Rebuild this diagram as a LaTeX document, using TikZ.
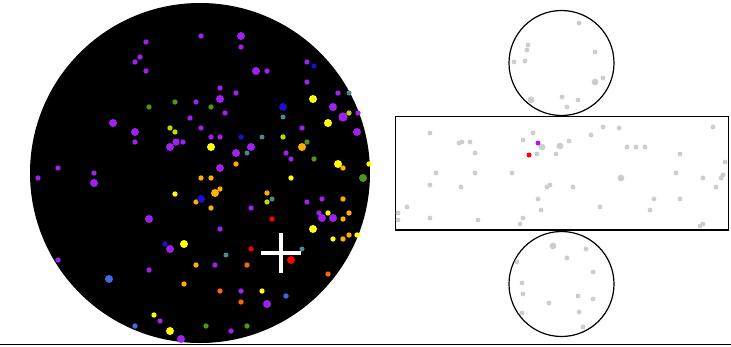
\documentclass[tikz,border=0pt]{standalone}
\definecolor{cpurple}{RGB}{160,32,240}
\definecolor{cyellow}{RGB}{255,255,0}
\definecolor{corange}{RGB}{255,175,0}
\definecolor{cored}{RGB}{255,100,0}
\definecolor{cblue}{RGB}{25,15,205}
\definecolor{cteal}{RGB}{70,140,140}
\definecolor{cygreen}{RGB}{195,215,0}
\definecolor{cgreen}{RGB}{80,150,20}
\definecolor{cred}{RGB}{255,0,0}
\definecolor{csteel}{RGB}{65,105,225}
\definecolor{cgrey}{RGB}{205,205,205}
\begin{document}
\begin{tikzpicture}[x=1pt,y=-1pt,
  outline/.style={draw=black,line width=1.2pt,fill=white}]
\useasboundingbox (0,0) rectangle (731,346);
% ground line
\draw[line width=1.2pt] (0,344.5) -- (731,344.5);
% sky disc
\fill[black] (200,173) circle (170);
% purple dots
\foreach \x/\y/\r in {201/36/2.7,241/36/4,241/47/2.7,146/42/2.7,140/57/2.7,135/62/2.7,146/71/2.7,256/71/4,267/71/2.7,307/62/2.7,307/82/2.7,220/88/2.7,236/93/2.7,338/93/2.7,220/99/4,196/102/2.7,333/107/4,343/117/4.7,358/113/2.7,225/113/2.7,190/118/2.7,113/123/4,201/128/2.7,135/132/4,135/142/2.7,302/128/2.7,357/132/4,211/137/2.7,220/137/2.7,170/147/4,176/142/3.7,183/142/2.7,251/147/4,236/153/4,286/153/2.7,291/159/2.7,58/168/2.7,38/178/2.7,94/173/2.7,94/183/4,220/168/4,251/208/2.7,307/202/2.7,322/199/2.7,149/219/4,322/218/4,333/218/4,319/213/2.7,220/229/2.7,170/249/4,215/265/2.7,58/260/2.7,149/270/2.7,241/291/2.7,267/304/4,160/321/2.7,231/331/2.7,181/339/4}
  \fill[cpurple] (\x,\y) circle (\r);
% yellow dots
\foreach \x/\y/\r in {313/99/4,328/123/4,211/147/4,338/164/4,369/164/2.7,291/178/2.7,175/194/2.7,328/213/2.7,313/229/4,333/239/2.7,357/235/2.7,184/244/4,262/291/2.7,154/315/2.7,170/331/4}
  \fill[cyellow] (\x,\y) circle (\r);
% orange dots
\foreach \x/\y/\r in {302/147/4,343/168/2.7,236/164/2.7,201/178/2.7,211/178/2.7,220/189/2.7,215/193/4,196/202/2.7,211/208/2.7,267/193/2.7,343/199/2.7,349/213/2.7,343/219/2.7,343/239/2.7,349/235/2.7,196/265/2.7,184/284/2.7}
  \fill[corange] (\x,\y) circle (\r);
% orange-red dots
\foreach \x/\y in {247/265,328/274,220/291,241/302}
  \fill[cored] (\x,\y) circle (2.7);
% dark blue dots
\foreach \x/\y/\r in {314/66/2.7,283/107/4,241/137/2.7,201/199/4,165/244/2.7}
  \fill[cblue] (\x,\y) circle (\r);
% teal dots
\foreach \x/\y in {349/93,283/117,262/137,247/153,272/199,302/249,226/255}
  \fill[cteal] (\x,\y) circle (2.5);
% yellow-green dots
\foreach \x/\y in {349/113,170/128,175/132,283/137,267/202}
  \fill[cygreen] (\x,\y) circle (2.7);
% green dots
\foreach \x/\y/\r in {175/102/2.7,149/107/2.7,211/107/2.7,307/142/2.7,314/159/2.7,363/178/4,206/326/2.7,247/326/2.7}
  \fill[cgreen] (\x,\y) circle (\r);
% red dots
\foreach \x/\y/\r in {272/219/2.7,251/249/2.7,291/260/4}
  \fill[cred] (\x,\y) circle (\r);
% steel blue dots
\foreach \x/\y/\r in {109/279/4,286/296/2.7,135/326/2.7}
  \fill[csteel] (\x,\y) circle (\r);
% cross
\draw[white,line width=4.5pt] (261,253) -- (301,253);
\draw[white,line width=4.5pt] (281,233) -- (281,273);
% cylinder net
\path[outline] (561.5,63) circle (52.5);
\path[outline] (561.5,284) circle (52.5);
\path[outline] (395.5,116.5) rectangle (728.5,230);
% grey dots: top disc
\foreach \x/\y/\r in {579/23/2.4,528/45/2.4,527/50/2.4,595/52/2.4,514/62/2.4,525/61/2.4,603/78/2.4,595/82/3.4,531/100/3.4,562/97/2.4,578/100/2.4,567/107/2.4}
  \fill[cgrey] (\x,\y) circle (\r);
% grey dots: mantle
\foreach \x/\y/\r in {430/133/2.4,603/127/2.4,619/128/2.4,713/127/2.4,591/135/2.4,533/133/2.4,523/140/2.4,459/143/2.4,462/142/2.4,470/142/2.4,542/147/3.4,560/146/3.4,569/141/2.4,475/153/2.4,537/154/2.4,556/154/2.4,627/147/2.4,636/147/2.4,645/147/2.4,680/154/2.4,725/162/2.4,436/173/2.4,475/173/2.4,512/173/2.4,621/178/3.4,676/173/2.4,703/178/2.4,723/175/2.4,721/178/2.4,430/185/2.4,461/187/2.4,547/187/2.4,550/185/2.4,573/187/2.4,716/187/2.4,538/199/2.4,654/199/2.4,680/199/2.4,407/207/2.4,600/207/2.4,541/210/2.4,650/210/2.4,398/213/2.4,398/220/2.4,430/218/2.4,478/220/2.4,523/218/2.4,520/224/2.4,700/226/2.4,703/224/2.4}
  \fill[cgrey] (\x,\y) circle (\r);
\fill[cpurple] (538,143) circle (2.5);
\fill[cred] (529,155) circle (2.5);
% grey dots: bottom disc
\foreach \x/\y/\r in {553/246/3.4,586/249/2.4,567/258/2.4,517/262/2.4,593/272/2.4,522/283/2.4,523/294/2.4,578/296/2.4,593/299/2.4,549/303/2.4,579/312/2.4,522/313/2.4,583/327/2.4}
  \fill[cgrey] (\x,\y) circle (\r);
\end{tikzpicture}
\end{document}
